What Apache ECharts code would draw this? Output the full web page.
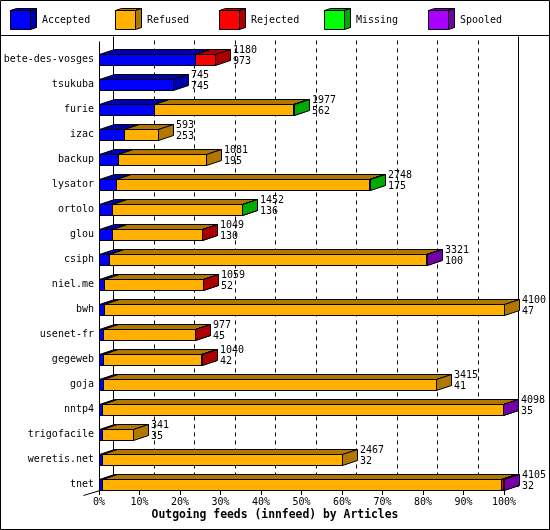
<!DOCTYPE html>
<html><head><meta charset="utf-8">
<script src="https://cdn.jsdelivr.net/npm/echarts@6/dist/echarts.min.js"></script>
<style>html,body{margin:0;padding:0;background:#fff}#c{width:550px;height:530px}</style>
</head><body><div id="c"></div>
<script>
// ---- data ----
const hosts = ['bete-des-vosges','tsukuba','furie','izac','backup','lysator','ortolo','glou','csiph','niel.me','bwh','usenet-fr','gegeweb','goja','nntp4','trigofacile','weretis.net','tnet'];
const totals   = [1180, 745, 1977, 593, 1081, 2748, 1452, 1049, 3321, 1059, 4100, 977, 1040, 3415, 4098, 341, 2467, 4105];
const accepted = [ 973, 745,  562, 253,  195,  175,  136,  130,  100,   52,   47,  45,   42,   41,   35,  35,   32,   32];
const refused  = [   0,   0, 1400, 340,  886, 2558, 1311,  915, 3217, 1003, 4053, 924,  995, 3374, 4058, 306, 2435, 4043];
const rejected = [ 207,   0,    0,   0,    0,    0,    0,    4,    0,    4,    0,   8,    3,    0,    0,   0,    0,   15];
const missing  = [   0,   0,   15,   0,    0,   15,    5,    0,    0,    0,    0,   0,    0,    0,    0,   0,    0,    0];
const spooled  = [   0,   0,    0,   0,    0,    0,    0,    0,    4,    0,    0,   0,    0,    0,    5,   0,    0,   15];
const tickLabels = ['0%','10%','20%','30%','40%','50%','60%','70%','80%','90%','100%'];
const legendNames = ['Accepted','Refused','Rejected','Missing','Spooled'];
const titleText = 'Outgoing feeds (innfeed) by Articles';

// ---- styling ----
const segs = [
  {name:'Accepted', data:accepted, color:'#0000ff', dark:'#0000aa'},
  {name:'Refused',  data:refused,  color:'#ffb000', dark:'#b07800'},
  {name:'Rejected', data:rejected, color:'#ff0000', dark:'#aa0000'},
  {name:'Missing',  data:missing,  color:'#00ff00', dark:'#00aa00'},
  {name:'Spooled',  data:spooled,  color:'#aa00ff', dark:'#7400aa'}
];
const FONT = '"DejaVu Sans Mono", "Liberation Mono", monospace';
const DX = 15, DY = 5, FDX = 14;
const maxTotal = Math.max(...totals);
const pct = v => v / maxTotal * 100;

const chart = echarts.init(document.getElementById('c'), null, {renderer:'canvas'});

function renderBar(params, api) {
  const i = api.value(0);
  const yc = Math.round(api.coord([0, i])[1]);
  const yT = yc - 6 + 0.5, yB = yc + 5 + 0.5;
  const children = [];
  let acc = 0;
  const st = {stroke:'#000', lineWidth:1};
  for (let k = 0; k < segs.length; k++) {
    const v = segs[k].data[i];
    if (!v) continue;
    const xa = Math.round(api.coord([pct(acc), i])[0]) + 0.5;
    acc += v;
    const xb = Math.round(api.coord([pct(acc), i])[0]) + 0.5;
    children.push({type:'polygon', shape:{points:[[xa,yT],[xb,yT],[xb,yB],[xa,yB]]}, style:Object.assign({fill:segs[k].color}, st)});
    children.push({type:'polygon', shape:{points:[[xa,yT],[xb,yT],[xb+DX,yT-DY],[xa+DX,yT-DY]]}, style:Object.assign({fill:segs[k].dark}, st)});
    children.push({type:'polygon', shape:{points:[[xb,yT],[xb+DX,yT-DY],[xb+DX,yB-DY],[xb,yB]]}, style:Object.assign({fill:segs[k].dark}, st)});
  }
  const xe = Math.round(api.coord([pct(totals[i]), i])[0]);
  children.push({type:'text', style:{text: totals[i] + '\n' + accepted[i], x: xe + DX + 3, y: yc - 4,
    align:'left', verticalAlign:'middle', font:'10px ' + FONT, lineHeight: 11, fill:'#000'}});
  return {type:'group', children};
}

function renderFrame(params, api) {
  const cs = params.coordSys;
  const yFront = cs.y + cs.height - 6 + 0.5; // front floor line
  const yBack = yFront - DY;
  const yTop = 36.5;
  const x0 = Math.round(api.coord([0, 0])[0]) + 0.5;
  const x100 = Math.round(api.coord([100, 0])[0]) + 0.5;
  const ch = [];
  const ls = {stroke:'#000', lineWidth:1};
  for (let v = 10; v <= 90; v += 10) {
    const x = Math.round(api.coord([v, 0])[0]) + FDX + 0.5;
    ch.push({type:'line', shape:{x1:x, y1:yTop + 4, x2:x, y2:yBack}, style:{stroke:'#000', lineWidth:1, lineDash:[4,4]}});
  }
  ch.push({type:'line', shape:{x1:x0 + FDX, y1:yTop, x2:x0 + FDX, y2:yBack}, style:ls});
  ch.push({type:'line', shape:{x1:x100 + FDX, y1:yTop, x2:x100 + FDX, y2:yBack}, style:ls});
  ch.push({type:'line', shape:{x1:x0 + FDX, y1:yBack, x2:x100 + FDX, y2:yBack}, style:ls});
  ch.push({type:'line', shape:{x1:x0, y1:yTop + DY, x2:x0, y2:yFront}, style:ls});
  ch.push({type:'line', shape:{x1:x0 - 16, y1:yFront + 4, x2:x0 + FDX, y2:yBack}, style:ls});
  return {type:'group', children: ch};
}

// legend drawn as 3D boxes
const legendGraphics = [];
legendNames.forEach((n, k) => {
  const x = 10 + Math.round(k * 104.5), y = 10;
  const s = segs[k];
  legendGraphics.push({type:'polygon', shape:{points:[[x+0.5,y+0.5],[x+20.5,y+0.5],[x+26.5,y-1.5],[x+6.5,y-1.5]]}, style:{fill:s.dark, stroke:'#000', lineWidth:1}});
  legendGraphics.push({type:'polygon', shape:{points:[[x+20.5,y+0.5],[x+26.5,y-1.5],[x+26.5,y+17.5],[x+20.5,y+19.5]]}, style:{fill:s.dark, stroke:'#000', lineWidth:1}});
  legendGraphics.push({type:'rect', shape:{x:x+0.5, y:y+0.5, width:20, height:19}, style:{fill:s.color, stroke:'#000', lineWidth:1}});
  legendGraphics.push({type:'text', x: x + 32, y: 20, style:{text:n, font:'10px ' + FONT, fill:'#000', align:'left', verticalAlign:'middle'}});
});
legendGraphics.push({type:'rect', shape:{x:0.5, y:0.5, width:549, height:529}, style:{fill:null, stroke:'#000', lineWidth:1}, z:100});
legendGraphics.push({type:'line', shape:{x1:0, y1:35.5, x2:550, y2:35.5}, style:{stroke:'#000', lineWidth:1}});

chart.setOption({
  animation: false,
  backgroundColor: '#fff',
  title: {text: titleText, left: 'center', top: 510, textStyle:{fontFamily: FONT, fontSize: 11.4, fontWeight:'bold', color:'#000'}, padding: 0},
  grid: {left: 99, right: 46, top: 47, height: 450},
  xAxis: {type:'value', min:0, max:100, interval:10, offset:-6,
    axisLine:{show:false}, splitLine:{show:false},
    axisTick:{show:true, length:4, lineStyle:{color:'#000'}},
    axisLabel:{margin:6, color:'#000', fontFamily:FONT, fontSize:10, formatter: (v) => tickLabels[Math.round(v/10)]}},
  yAxis: {type:'category', data: hosts, inverse:true,
    axisLine:{show:false}, axisTick:{show:false}, splitLine:{show:false},
    axisLabel:{margin:5, color:'#000', fontFamily:FONT, fontSize:10}},
  graphic: legendGraphics,
  series: [
    {type:'custom', name:'frame', renderItem: renderFrame, data:[[0]], z:1, silent:true},
    {type:'custom', name:'bars', renderItem: renderBar, data: hosts.map((h, i) => [i]), z:2, encode:{y:0}}
  ]
});
</script></body></html>
